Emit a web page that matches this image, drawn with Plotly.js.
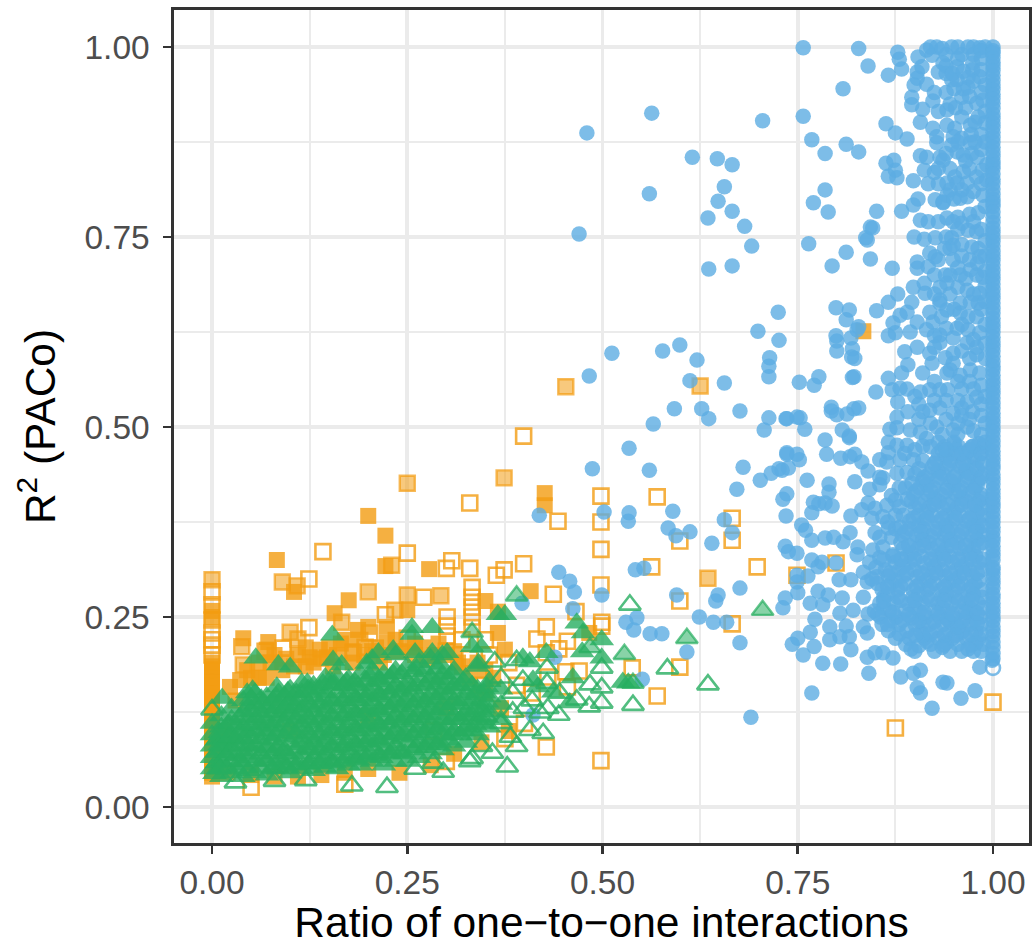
<!DOCTYPE html>
<html><head><meta charset="utf-8">
<script src="https://cdn.plot.ly/plotly-3.0.1.min.js"></script>
<style>html,body{margin:0;padding:0;background:#fff}</style></head>
<body><div id="c" style="width:1032px;height:946px"></div>
<script>
const tickVals=[0,.25,.5,.75,1];
const tickText=["0.00","0.25","0.50","0.75","1.00"];
const minorVals=[.125,.375,.625,.875];
const xTitle="Ratio of one\u2212to\u2212one interactions";
const yTitle="R<sup>2</sup> (PACo)";
const blueColumnY=[1,.995,.986,.975,.963,.95,.938,.926,.912,.9,.888,.875,.862,.85,.84,.826,.813,.8,.79,.776,.762,.75,.738,.725,.713,.7,.688,.675,.663,.65,.637,.625,.612,.6,.586,.575,.562,.55,.538,.525,.512,.5,.488,.475,.462,.45,.437,.425,.412,.4,.388,.375,.362,.35,.337,.325,.312,.3,.288,.275,.262,.25,.237,.225,.21,.195,.445,.395,.355,.315,.28,.245,.992,.98,.969,.956,.944,.932,.919,.906,.894,.881,.868,.856,.845,.833,.82,.806,.795,.783,.769,.756,.744,.731,.719,.706,.694,.681,.669,.656,.643,.631,.618,.606,.593,.58,.568,.556,.544,.531,.518,.506,.494,.481,.468,.456,.431,.418,.406,.381,.368,.343,.331,.306,.294,.268,.256,.231,.217,.202];
const blueOpen=[[1,.183]];
const blueSparse=[[.757,.999],[.828,.998],[.48,.887],[.563,.913],[.47,.754],[.56,.807],[.615,.855],[.647,.853],[.666,.845],[.656,.816],[.648,.797],[.635,.775],[.666,.784],[.682,.764],[.691,.738],[.636,.708],[.666,.712],[.705,.903],[.757,.909],[.768,.878],[.808,.945],[.785,.86],[.812,.872],[.828,.862],[.84,.975],[.866,.963],[.77,.795],[.785,.812],[.789,.783],[.764,.741],[.812,.73],[.794,.712],[.837,.749],[.843,.763],[.846,.762],[.871,.709],[.725,.651],[.699,.626],[.726,.614],[.714,.591],[.713,.58],[.713,.566],[.512,.597],[.483,.567],[.577,.6],[.599,.608],[.621,.588],[.612,.561],[.656,.558],[.627,.524],[.592,.524],[.565,.504],[.636,.511],[.676,.521],[.534,.472],[.56,.443],[.487,.445],[.68,.447],[.672,.418],[.702,.43],[.716,.439],[.726,.445],[.736,.464],[.752,.457],[.735,.511],[.753,.512],[.707,.496],[.713,.512],[.419,.384],[.502,.388],[.534,.387],[.533,.376],[.59,.389],[.584,.367],[.594,.357],[.612,.362],[.64,.347],[.656,.378],[.666,.361],[.444,.309],[.458,.297],[.464,.283],[.542,.312],[.553,.314],[.595,.279],[.648,.279],[.645,.271],[.499,.279],[.397,.268],[.462,.261],[.624,.25],[.642,.243],[.659,.243],[.676,.288],[.544,.249],[.53,.243],[.54,.233],[.561,.228],[.576,.228],[.608,.204],[.439,.197],[.551,.168],[.411,.121],[.676,.216],[.69,.118],[.752,.559],[.771,.555],[.777,.566],[.822,.566],[.85,.546],[.793,.526],[.793,.521],[.8,.516],[.813,.517],[.822,.524],[.828,.525],[.736,.511],[.749,.513],[.759,.497],[.785,.483],[.807,.496],[.816,.488],[.816,.486],[.787,.464],[.805,.459],[.817,.461],[.823,.464],[.832,.454],[.84,.442],[.736,.466],[.749,.464],[.738,.446],[.73,.443],[.762,.43],[.823,.428],[.79,.425],[.79,.414],[.736,.412],[.731,.405],[.77,.401],[.777,.399],[.785,.4],[.794,.396],[.768,.387],[.735,.383],[.818,.383],[.832,.391],[.842,.418],[.855,.434],[.755,.371],[.76,.364],[.768,.351],[.785,.354],[.796,.355],[.808,.349],[.817,.361],[.734,.343],[.738,.336],[.749,.334],[.768,.325],[.781,.322],[.776,.316],[.799,.321],[.749,.305],[.763,.304],[.749,.296],[.803,.299],[.818,.299],[.827,.342],[.826,.332],[.75,.282],[.734,.275],[.731,.262],[.766,.268],[.776,.284],[.782,.266],[.789,.279],[.807,.275],[.821,.259],[.804,.255],[.772,.247],[.766,.23],[.812,.238],[.791,.237],[.791,.22],[.804,.224],[.816,.224],[.75,.222],[.743,.214],[.771,.211],[.757,.2],[.818,.207],[.782,.189],[.805,.188],[.768,.15],[.841,.176],[.839,.229],[.834,.237],[.84,.254],[.839,.197],[.849,.203],[.859,.203],[.872,.196],[.882,.171],[.903,.157],[.907,.15],[.922,.13],[.936,.164],[.941,.163],[.959,.143],[.977,.153],[.898,.176],[.907,.18],[.999,.193],[.983,.184],[.799,.62],[.818,.617],[.82,.603],[.823,.59],[.82,.565],[.799,.657],[.816,.654],[.812,.641],[.828,.632],[.866,.62]];
const blueUpper=[[.878,.993],[.88,.984],[.883,.971],[.904,.987],[.909,.974],[.903,.967],[.903,.959],[.899,.95],[.915,.951],[.915,.996],[.928,1],[.947,1],[.968,1],[.983,.999],[.922,.989],[.936,.979],[.93,.967],[.954,.974],[.947,.957],[.954,.957],[.974,.979],[.974,.97],[.983,.961],[.968,.947],[.96,.934],[.896,.934],[.896,.924],[.91,.918],[.923,.929],[.941,.917],[.907,.901],[.923,.893],[.928,.882],[.928,.874],[.863,.899],[.875,.887],[.89,.879],[.907,.857],[.915,.855],[.932,.855],[.936,.851],[.912,.838],[.917,.82],[.898,.824],[.863,.847],[.873,.851],[.866,.83],[.877,.828],[.875,.838],[.851,.784],[.883,.784],[.898,.792],[.904,.8],[.926,.799],[.936,.795],[.907,.772],[.917,.77],[.839,.746],[.843,.721],[.899,.75],[.912,.747],[.926,.749],[.903,.717],[.903,.709],[.917,.711],[.926,.724],[.898,.684],[.912,.689],[.913,.676],[.878,.675],[.866,.664],[.896,.664],[.851,.653],[.826,.628],[.8,.613],[.8,.6],[.819,.592],[.887,.599],[.875,.624],[.872,.637],[.881,.647],[.89,.651],[.903,.638],[.894,.625],[.903,.605],[.919,.597],[.915,.628],[.932,.621],[.923,.638],[.932,.663],[.979,.926],[.987,.93],[.977,.901],[.971,.897],[.981,.908],[.96,.908],[.951,.893],[.941,.897],[.949,.882],[.947,.871],[.977,.875],[.971,.874],[.954,.862],[.962,.858],[.973,.86],[.962,.836],[.951,.829],[.986,.838],[.979,.829],[.941,.821],[.954,.821],[.967,.821],[.96,.812],[.945,.812],[.941,.805],[.936,.796],[.958,.801],[.967,.803],[.987,.805],[.981,.782],[.941,.775],[.949,.77],[.955,.776],[.96,.768],[.968,.759],[.979,.757],[.947,.749],[.949,.739],[.945,.735],[.973,.737],[.981,.735],[.983,.724],[.949,.72],[.919,.729],[.93,.72],[.939,.7],[.941,.689],[.932,.684],[.958,.7],[.971,.707],[.979,.7],[.987,.697],[.955,.684],[.967,.68],[.983,.676],[.932,.667],[.958,.663],[.971,.664],[.981,.663],[.941,.654],[.958,.65],[.968,.645],[.979,.645],[.919,.651],[.934,.645],[.954,.63],[.968,.628],[.983,.624],[.932,.611],[.949,.617],[.967,.611],[.979,.605],[.949,.597],[.939,.591],[.979,.595],[.96,.99],[.94,.99],[.975,.99],[.955,.985],[.985,.985],[.94,.965],[.962,.945],[.985,.94],[.945,.925],[.93,.915],[.965,.92],[.985,.885],[.96,.88],[.985,.865],[.985,.82],[.925,.835],[.93,.82],[.985,.76],[.97,.78],[.93,.77],[.98,.715],[.96,.725],
[.92,1],[.935,.998],[.955,1],[.975,1],[.99,1],[.985,.995],[.94,.975],[.948,.965],[.962,.968],[.968,.96],[.985,.97],[.99,.95],[.95,.945],[.975,.955],[.925,.94],[.94,.94],[.952,.92],[.97,.935],[.99,.915],[.99,.9],[.972,.885],[.955,.875],[.99,.875],[.94,.86],[.965,.85],[.98,.855],[.992,.845],[.97,.84],[.945,.84],[.93,.84],[.992,.825],[.975,.81],[.95,.8],[.99,.79],[.975,.77],[.955,.76],[.94,.75],[.99,.745],[.96,.74],[.938,.735],[.99,.725],[.97,.72],[.955,.71],[.99,.705],[.925,.7],[.945,.7],[.965,.695],[.99,.685],[.945,.675],[.975,.675],[.99,.665],[.925,.675],[.95,.655],[.985,.655],[.99,.635],[.96,.635],[.94,.63],[.925,.62],[.975,.615],[.99,.61],[.96,.6],[.925,.605],[.99,.59],[.97,.59],[.945,.575]];
const blueMiddle=[[.871,.549],[.881,.551],[.866,.564],[.891,.582],[.883,.571],[.907,.546],[.919,.549],[.932,.549],[.91,.571],[.941,.571],[.958,.568],[.983,.571],[.922,.584],[.949,.584],[.971,.575],[.967,.533],[.979,.539],[.942,.549],[.878,.533],[.891,.52],[.919,.522],[.932,.525],[.949,.518],[.974,.52],[.877,.513],[.868,.497],[.877,.499],[.894,.496],[.907,.493],[.928,.5],[.949,.496],[.967,.5],[.866,.48],[.877,.476],[.89,.476],[.866,.466],[.855,.457],[.864,.454],[.881,.457],[.898,.457],[.877,.439],[.859,.433],[.855,.424],[.896,.426],[.875,.404],[.864,.397],[.849,.393],[.84,.4],[.845,.38],[.859,.382],[.875,.384],[.849,.361],[.866,.367],[.881,.368],[.846,.338],[.859,.342],[.872,.332],[.842,.322],[.834,.309],[.855,.328],[.851,.303],[.839,.296],[.834,.276],[.905,.53],[.96,.55],[.985,.555],[.985,.515],[.94,.535],[.905,.51],[.92,.505],[.94,.51],[.96,.515],[.985,.49],[.91,.475],[.93,.48],[.95,.48],[.975,.475],
[.89,.55],[.9,.54],[.925,.56],[.955,.56],[.97,.56],[.99,.54],[.975,.55],[.955,.535],[.925,.535],[.91,.52],[.96,.525],[.985,.53],[.97,.51],[.955,.505],[.935,.49],[.955,.49],[.975,.495],[.99,.505],[.915,.485],[.94,.47],[.96,.465],[.985,.465],[.99,.48],[.9,.47],[.887,.465],[.89,.44],[.905,.445],[.88,.42],[.89,.405],[.87,.41],[.88,.395],[.865,.375],[.87,.355],[.855,.355],[.86,.325],[.85,.315],[.845,.3]];
const blueDense=[[.9,.205],[.925,.205],[.945,.205],[.96,.205],[.975,.205],[.985,.205],[.875,.222],[.893,.222],[.912,.222],[.93,.222],[.948,.222],[.966,.222],[.982,.222],[.858,.24],[.88,.24],[.9,.24],[.918,.24],[.936,.24],[.953,.24],[.97,.24],[.985,.24],[.848,.258],[.868,.258],[.888,.258],[.906,.258],[.925,.258],[.942,.258],[.96,.258],[.976,.258],[.86,.276],[.878,.276],[.897,.276],[.916,.276],[.934,.276],[.952,.276],[.968,.276],[.986,.276],[.852,.294],[.87,.294],[.888,.294],[.907,.294],[.925,.294],[.943,.294],[.96,.294],[.977,.294],[.862,.312],[.88,.312],[.899,.312],[.917,.312],[.935,.312],[.953,.312],[.97,.312],[.986,.312],[.872,.33],[.89,.33],[.908,.33],[.926,.33],[.944,.33],[.961,.33],[.978,.33],[.882,.348],[.9,.348],[.918,.348],[.936,.348],[.954,.348],[.971,.348],[.987,.348],[.875,.366],[.893,.366],[.911,.366],[.929,.366],[.946,.366],[.963,.366],[.98,.366],[.885,.384],[.904,.384],[.922,.384],[.94,.384],[.957,.384],[.974,.384],[.988,.384],[.895,.402],[.913,.402],[.931,.402],[.949,.402],[.966,.402],[.982,.402],[.888,.42],[.906,.42],[.924,.42],[.942,.42],[.96,.42],[.977,.42],[.9,.438],[.918,.438],[.936,.438],[.954,.438],[.971,.438],[.987,.438],[.91,.456],[.928,.456],[.946,.456],[.963,.456],[.98,.456],[.92,.474],[.938,.474],[.956,.474],[.973,.474],[.988,.474],
[.888,.214],[.905,.212],[.92,.214],[.937,.213],[.955,.214],[.972,.213],[.988,.214],[.866,.232],[.89,.232],[.908,.23],[.927,.232],[.944,.231],[.961,.232],[.978,.231],[.856,.25],[.876,.25],[.896,.249],[.914,.25],[.932,.25],[.95,.249],[.966,.25],[.984,.25],[.855,.268],[.873,.268],[.892,.267],[.91,.268],[.929,.268],[.947,.267],[.964,.268],[.981,.268],[.858,.286],[.878,.286],[.898,.285],[.916,.286],[.934,.286],[.951,.285],[.969,.286],[.986,.286],[.866,.304],[.885,.304],[.903,.303],[.921,.304],[.939,.304],[.957,.303],[.974,.304],[.875,.322],[.894,.322],[.912,.321],[.93,.322],[.948,.322],[.966,.321],[.983,.322],[.885,.34],[.904,.34],[.922,.339],[.94,.34],[.958,.34],[.975,.339],[.884,.358],[.902,.358],[.92,.357],[.938,.358],[.956,.358],[.973,.357],[.988,.358],[.893,.376],[.912,.376],[.93,.375],[.948,.376],[.966,.376],[.982,.375],[.9,.394],[.918,.394],[.936,.393],[.954,.394],[.972,.394],[.986,.393],[.898,.412],[.916,.412],[.934,.411],[.952,.412],[.969,.412],[.985,.411],[.91,.43],[.928,.43],[.946,.429],[.964,.43],[.981,.43],[.922,.447],[.94,.447],[.958,.448],[.975,.447],[.93,.465],[.948,.465],[.966,.466],[.984,.465],
[.915,.218],[.94,.216],[.96,.23],[.978,.216],[.87,.245],[.91,.242],[.945,.243],[.975,.245],[.86,.262],[.9,.262],[.935,.262],[.97,.262],[.865,.28],[.905,.28],[.94,.28],[.975,.28],[.875,.298],[.915,.298],[.95,.298],[.982,.298],[.885,.316],[.925,.316],[.96,.316],[.895,.334],[.935,.334],[.97,.334],[.91,.352],[.945,.352],[.98,.352],[.905,.37],[.94,.37],[.975,.37],[.915,.388],[.95,.388],[.98,.388],[.925,.406],[.96,.406],[.985,.406],[.915,.424],[.95,.424],[.98,.424],[.93,.442],[.965,.442],[.94,.46],[.975,.46],[.95,.478],[.982,.478],
[.895,.208],[.91,.226],[.935,.21],[.952,.226],[.968,.208],[.985,.228],[.88,.228],[.9,.226],[.92,.228],[.938,.226],[.955,.237],[.972,.227],[.865,.24],[.885,.246],[.905,.245],[.925,.244],[.942,.247],[.96,.245],[.98,.242],[.852,.254],[.872,.256],[.892,.253],[.912,.256],[.93,.255],[.948,.254],[.965,.257],[.98,.255],[.86,.271],[.882,.272],[.9,.272],[.92,.273],[.938,.272],[.956,.271],[.973,.273],[.988,.262],[.865,.29],[.882,.29],[.902,.29],[.92,.29],[.938,.29],[.956,.29],[.973,.29],[.868,.308],[.89,.308],[.908,.308],[.928,.308],[.945,.308],[.963,.308],[.98,.308],[.882,.326],[.9,.326],[.92,.326],[.938,.326],[.955,.326],[.973,.326],[.988,.326],[.892,.344],[.912,.344],[.93,.344],[.948,.344],[.965,.344],[.982,.344],[.888,.362],[.908,.362],[.925,.362],[.942,.362],[.96,.362],[.978,.362],[.898,.38],[.916,.38],[.935,.38],[.952,.38],[.97,.38],[.987,.37],[.905,.398],[.925,.398],[.942,.398],[.96,.398],[.977,.398],[.902,.416],[.92,.416],[.94,.416],[.957,.416],[.975,.416],[.912,.434],[.932,.434],[.95,.434],[.968,.434],[.985,.434],[.925,.452],[.945,.452],[.962,.452],[.98,.445],[.935,.47],[.953,.47],[.97,.47],[.987,.452]];
const orangeColumnY=[.04,.05,.06,.07,.08,.09,.1,.11,.12,.13,.14,.15,.16,.17,.18,.19,.258,.25,.045,.065,.085,.105,.125,.145,.165,.185];
const orangeSolid=[[.083,.325],[.2,.383],[.222,.357],[.222,.317],[.278,.313],[.105,.283],[.175,.272],[.157,.255],[.25,.259],[.426,.413],[.426,.397],[.834,.626],[.408,.284],[.35,.271],[.366,.257],[.375,.207],[.366,.229],[.483,.229],[.04,.222],[.072,.217],[.07,.207],[.023,.158],[.036,.167],[.138,.207],[.147,.197],[.125,.197],[.187,.233],[.2,.237],[.224,.237],[.224,.216],[.03,.14],[.05,.17],[.06,.19],[.08,.2],[.09,.18],[.11,.2],[.12,.21],[.13,.19],[.15,.21],[.16,.2],[.17,.22],[.18,.19],[.19,.22],[.21,.21],[.22,.2],[.235,.22],[.25,.21],[.26,.2],[.27,.21],[.285,.2],[.3,.2],[.315,.19],[.33,.17],[.35,.15],[.37,.13],[.02,.045],[.05,.042],[.08,.04],[.11,.04],[.14,.042],[.17,.045],[.2,.05],[.24,.045],[.28,.055],[.31,.07],[.345,.085],[.38,.1],[.1,.1],[.2,.12],[.3,.13],[.015,.1],[.07,.17],
[.045,.18],[.06,.17],[.075,.19],[.095,.195],[.105,.185],[.12,.185],[.14,.195],[.155,.185],[.165,.215],[.18,.205],[.195,.2],[.205,.205],[.215,.19],[.24,.205],[.26,.215],[.275,.195],[.29,.215],[.31,.205],[.32,.185],[.34,.19],[.35,.18],[.36,.17]];
const orangeOpen=[[.142,.336],[.124,.3],[.25,.334],[.307,.324],[.3,.314],[.33,.4],[.33,.314],[.271,.276],[.399,.488],[.443,.376],[.498,.409],[.498,.375],[.498,.339],[.498,.292],[.57,.408],[.563,.316],[.599,.35],[.599,.271],[.666,.38],[.666,.351],[.666,.241],[.698,.316],[.749,.305],[.799,.321],[.875,.104],[1,.138],[.498,.061],[.599,.184],[.57,.146],[.538,.183],[.364,.305],[.374,.312],[.399,.32],[.333,.289],[.333,.276],[.333,.263],[.333,.25],[.333,.236],[.437,.28],[.466,.257],[.499,.243],[.499,.238],[.301,.238],[.301,.225],[.428,.237],[.416,.221],[.444,.208],[.455,.218],[.428,.203],[.47,.179],[.453,.178],[.455,.158],[.43,.171],[.428,.079],[.124,.236],[.091,.209],[.068,.205],[.202,.229],[.25,.222],[.222,.253],[.181,.203],[.196,.21],[.301,.25],[.05,.026],[0,.283],[0,.266],[0,.246],[0,.229],[0,.22],[0,.213],[0,.2],[.355,.2],[.32,.22],[.3,.205],[.35,.22],[.38,.19],[.345,.16],[.39,.16],[.41,.15],[.4,.11],[.375,.09],[.33,.195],[.284,.1],[.17,.03],[.3,.06]];
const orangeLight=[[.25,.426],[.09,.296],[.109,.291],[.2,.283],[.25,.279],[.293,.278],[0,.299],[.23,.318],[.453,.553],[.625,.554],[.374,.433],[.635,.301],[.038,.211],[.04,.187],[.1,.23],[.11,.221],[.166,.243],[.234,.259]];
const greenSolid=[[.154,.226],[.056,.196],[.085,.187],[.1,.184],[.155,.193],[.166,.187],[.256,.236],[.282,.236],[.256,.227],[.013,.143],[.232,.207],[.213,.203],[.198,.189],[.151,.167],[.122,.163],[.083,.158],[.052,.154],[.045,.15],[.301,.203],[.282,.203],[.26,.203],[.499,.22],[.499,.196],[.467,.242],[.475,.229],[.474,.204],[.428,.203],[.398,.196],[.407,.191],[.366,.253],[.375,.253],[.333,.211],[.345,.21],[.341,.189],[.462,.17],[.526,.164],[.533,.163],[.458,.137],[.437,.151],[.417,.158],[.411,.167],
[0,.05],[0,.065],[0,.08],[0,.095],[0,.11],[.012,.04],[.012,.06],[.012,.075],[.012,.09],[.012,.105],[.012,.12],[.025,.045],[.025,.06],[.025,.08],[.025,.095],[.025,.115],[.025,.13],[.04,.04],[.04,.055],[.04,.07],[.04,.09],[.04,.105],[.04,.125],[.04,.14],[.055,.045],[.055,.06],[.055,.08],[.055,.1],[.055,.115],[.055,.135],[.055,.15],[.07,.042],[.07,.06],[.07,.078],[.07,.095],[.07,.11],[.07,.13],[.07,.145],[.085,.05],[.085,.065],[.085,.08],[.085,.1],[.085,.12],[.085,.135],[.085,.15],[.1,.045],[.1,.062],[.1,.085],[.1,.105],[.1,.125],[.1,.14],[.1,.155],[.115,.05],[.115,.07],[.115,.09],[.115,.11],[.115,.13],[.115,.15],[.115,.163],[.13,.048],[.13,.065],[.13,.085],[.13,.105],[.13,.125],[.13,.145],[.13,.16],[.145,.052],[.145,.07],[.145,.09],[.145,.11],[.145,.13],[.145,.15],[.145,.17],[.16,.05],[.16,.068],[.16,.088],[.16,.108],[.16,.13],[.16,.15],[.16,.172],[.175,.055],[.175,.075],[.175,.095],[.175,.115],[.175,.135],[.175,.155],[.175,.168],[.19,.055],[.19,.07],[.19,.09],[.19,.11],[.19,.13],[.19,.15],[.19,.175],[.205,.06],[.205,.08],[.205,.1],[.205,.12],[.205,.14],[.205,.16],[.205,.18],[.205,.195],[.22,.055],[.22,.075],[.22,.095],[.22,.115],[.22,.135],[.22,.155],[.22,.175],[.235,.06],[.235,.08],[.235,.1],[.235,.12],[.235,.14],[.235,.16],[.235,.18],[.235,.2],[.25,.06],[.25,.085],[.25,.105],[.25,.125],[.25,.145],[.25,.165],[.25,.185],[.265,.065],[.265,.085],[.265,.105],[.265,.125],[.265,.145],[.265,.17],[.265,.19],[.28,.07],[.28,.09],[.28,.11],[.28,.13],[.28,.15],[.28,.17],[.28,.195],[.295,.075],[.295,.095],[.295,.115],[.295,.135],[.295,.155],[.295,.175],[.295,.2],[.31,.08],[.31,.1],[.31,.12],[.31,.14],[.31,.16],[.31,.18],[.325,.085],[.325,.105],[.325,.125],[.325,.15],[.325,.17],[.34,.095],[.34,.115],[.34,.135],[.34,.155],[.34,.185],[.355,.105],[.355,.125],[.355,.145],[.355,.165],[.37,.115],[.37,.135],[.37,.155],
[.006,.058],[.006,.072],[.006,.088],[.018,.052],[.018,.068],[.018,.085],[.018,.102],[.032,.05],[.032,.068],[.032,.088],[.032,.108],[.047,.048],[.047,.065],[.047,.082],[.047,.098],[.047,.118],[.047,.133],[.063,.052],[.063,.07],[.063,.09],[.063,.108],[.063,.125],[.063,.142],[.078,.05],[.078,.07],[.078,.088],[.078,.106],[.078,.124],[.078,.14],[.093,.056],[.093,.074],[.093,.092],[.093,.112],[.093,.13],[.093,.146],[.108,.055],[.108,.076],[.108,.096],[.108,.116],[.108,.134],[.108,.15],[.123,.056],[.123,.078],[.123,.098],[.123,.118],[.123,.138],[.123,.155],[.138,.057],[.138,.075],[.138,.095],[.138,.115],[.138,.135],[.138,.155],[.153,.06],[.153,.08],[.153,.1],[.153,.12],[.153,.14],[.153,.16],[.168,.06],[.168,.08],[.168,.1],[.168,.12],[.168,.14],[.168,.16],[.183,.064],[.183,.084],[.183,.104],[.183,.124],[.183,.144],[.183,.164],[.198,.066],[.198,.086],[.198,.106],[.198,.126],[.198,.146],[.198,.166],[.213,.068],[.213,.088],[.213,.108],[.213,.128],[.213,.148],[.213,.168],[.228,.07],[.228,.09],[.228,.11],[.228,.13],[.228,.15],[.228,.17],[.243,.072],[.243,.092],[.243,.112],[.243,.132],[.243,.152],[.243,.175],[.258,.075],[.258,.095],[.258,.115],[.258,.135],[.258,.155],[.258,.178],[.273,.078],[.273,.098],[.273,.118],[.273,.138],[.273,.16],[.273,.18],[.288,.082],[.288,.102],[.288,.122],[.288,.142],[.288,.162],[.288,.182],[.303,.088],[.303,.108],[.303,.128],[.303,.148],[.303,.168],[.318,.095],[.318,.115],[.318,.135],[.318,.16],[.333,.1],[.333,.12],[.333,.14],[.333,.16],[.348,.11],[.348,.13],[.348,.15],
[.003,.044],[.01,.05],[.01,.082],[.01,.098],[.022,.072],[.022,.092],[.022,.11],[.036,.06],[.036,.08],[.036,.098],[.036,.118],[.05,.074],[.05,.09],[.05,.108],[.05,.126],[.05,.142],[.066,.062],[.066,.08],[.066,.1],[.066,.118],[.066,.136],[.082,.056],[.082,.075],[.082,.094],[.082,.112],[.082,.13],[.082,.145],[.097,.052],[.097,.07],[.097,.098],[.097,.118],[.097,.135],[.097,.152],[.112,.06],[.112,.082],[.112,.102],[.112,.122],[.112,.142],[.127,.058],[.127,.075],[.127,.092],[.127,.112],[.127,.132],[.127,.152],[.142,.062],[.142,.082],[.142,.102],[.142,.122],[.142,.142],[.142,.162],[.157,.058],[.157,.078],[.157,.098],[.157,.118],[.157,.138],[.157,.162],[.172,.065],[.172,.085],[.172,.105],[.172,.125],[.172,.145],[.172,.165],[.187,.062],[.187,.08],[.187,.1],[.187,.12],[.187,.14],[.187,.16],[.202,.07],[.202,.09],[.202,.11],[.202,.13],[.202,.15],[.202,.172],[.217,.065],[.217,.085],[.217,.105],[.217,.125],[.217,.145],[.217,.165],[.232,.072],[.232,.095],[.232,.115],[.232,.135],[.232,.155],[.232,.175],[.247,.07],[.247,.095],[.247,.118],[.247,.138],[.247,.158],[.262,.078],[.262,.098],[.262,.118],[.262,.138],[.262,.16],[.262,.182],[.277,.082],[.277,.102],[.277,.122],[.277,.142],[.277,.165],[.292,.085],[.292,.105],[.292,.128],[.292,.148],[.292,.168],[.292,.188],[.307,.095],[.307,.115],[.307,.135],[.307,.155],[.307,.175],[.322,.1],[.322,.12],[.322,.142],[.322,.165],[.337,.108],[.337,.128],[.337,.148],[.352,.118],[.352,.138],[.352,.158]];
const greenOpen=[[0,.128],[.535,.266],[.583,.182],[.635,.161],[.539,.134],[.499,.183],[.499,.157],[.499,.137],[.484,.161],[.483,.132],[.467,.141],[.444,.121],[.429,.183],[.429,.163],[.424,.097],[.378,.053],[.333,.064],[.359,.071],[.407,.101],[.382,.092],[.296,.046],[.39,.193],[.362,.191],[.398,.167],[.42,.124],[.179,.028],[.224,.026],[.283,.058],[.33,.06],[.26,.05],[.12,.035],[.08,.034],[.03,.032],[.35,.12],[.37,.11],[.385,.125],[.4,.13],[.41,.14],[.39,.08],[.345,.08],[.37,.17],[.385,.15],[.43,.13],[.445,.15]];
const greenLight=[[.39,.278],[.333,.23],[.608,.222],[.528,.201],[.539,.163],[.705,.259],[.484,.21]];
const F="'Liberation Sans',Arial,sans-serif";
const X=a=>a.map(p=>p[0]),Y=a=>a.map(p=>p[1]);
const O="#F39C12",G="#27AE60",B="#5DADE2";
const blueAll=blueDense.concat(blueMiddle,blueUpper,blueSparse);
const traces=[
{x:X(orangeSolid).concat(orangeColumnY.map(()=>0)),y:Y(orangeSolid).concat(orangeColumnY),type:"scatter",mode:"markers",marker:{symbol:"square",size:16,color:O,opacity:.8,line:{width:0}}},
{x:X(orangeOpen),y:Y(orangeOpen),type:"scatter",mode:"markers",marker:{symbol:"square-open",size:15,color:O,opacity:.8,line:{width:2.6,color:O}}},
{x:X(orangeLight),y:Y(orangeLight),type:"scatter",mode:"markers",marker:{symbol:"square",size:15,color:"rgba(243,156,18,.55)",line:{width:2.4,color:"rgba(243,156,18,.7)"}}},
{x:X(blueAll).concat(blueColumnY.map(()=>1)),y:Y(blueAll).concat(blueColumnY),type:"scatter",mode:"markers",marker:{symbol:"circle",size:15.5,color:B,opacity:.8,line:{width:0}}},
{x:X(blueOpen),y:Y(blueOpen),type:"scatter",mode:"markers",marker:{symbol:"circle-open",size:14,color:B,opacity:.8,line:{width:2.6,color:B}}},
{x:X(greenSolid),y:Y(greenSolid),type:"scatter",mode:"markers",marker:{symbol:"triangle-up",size:21.5,color:G,opacity:.8,line:{width:0}}},
{x:X(greenOpen),y:Y(greenOpen),type:"scatter",mode:"markers",marker:{symbol:"triangle-up-open",size:19,color:G,opacity:.8,line:{width:2.6,color:G}}},
{x:X(greenLight),y:Y(greenLight),type:"scatter",mode:"markers",marker:{symbol:"triangle-up",size:19,color:"rgba(39,174,96,.55)",line:{width:2.4,color:"rgba(39,174,96,.7)"}}}
];
const ax=(range,title,standoff,labelGap)=>({range,tickmode:"array",tickvals:tickVals,ticktext:tickText,tickfont:{family:F,size:33.5,color:"#4D4D4D"},ticks:"outside",ticklen:8,tickwidth:2.6,tickcolor:"#333",showline:true,mirror:true,linecolor:"#333",linewidth:2.6,showgrid:true,gridcolor:"#EBEBEB",gridwidth:3.6,zeroline:false,automargin:false,ticklabelstandoff:labelGap,minor:{tickmode:"array",tickvals:minorVals,showgrid:true,gridcolor:"#EBEBEB",gridwidth:1.8,ticks:""},title:{text:title,font:{family:F,size:42.5,color:"#000"},standoff}});
Plotly.newPlot("c",traces,{width:1032,height:946,showlegend:false,margin:{l:174,r:3,t:10,b:103,pad:0},paper_bgcolor:"#fff",plot_bgcolor:"#fff",xaxis:ax([-.0487,1.0461],xTitle,8,0),yaxis:ax([-.0474,1.0487],yTitle,16,7)},{displayModeBar:false,staticPlot:true});
</script></body></html>
